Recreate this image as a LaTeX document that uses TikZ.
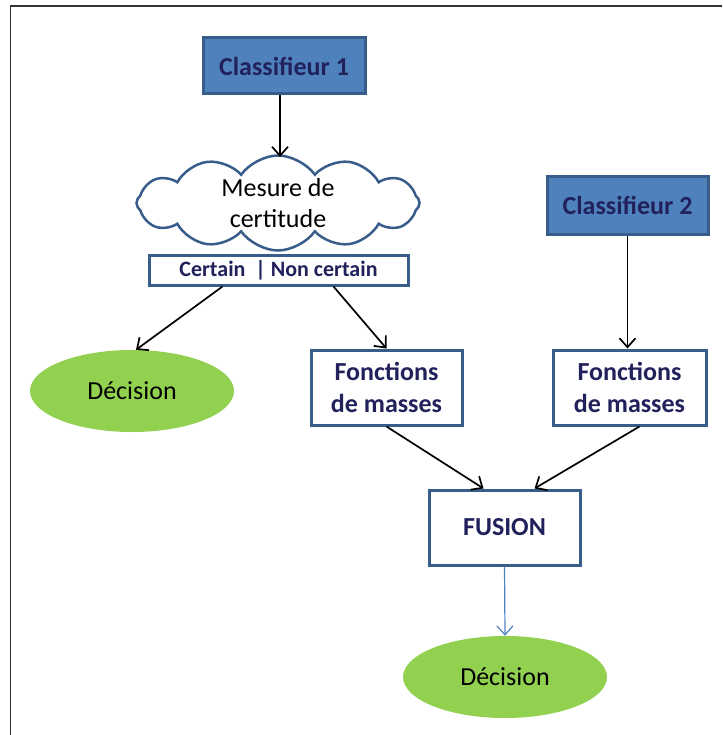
\documentclass[tikz,border=0pt]{standalone}
\usepackage{fontspec}
\setmainfont{Carlito}
\usetikzlibrary{shapes.symbols,shapes.geometric,arrows.meta}
\definecolor{boxblue}{RGB}{79,129,189}
\definecolor{edgeblue}{RGB}{56,93,138}
\definecolor{txtnavy}{RGB}{33,33,92}
\definecolor{decgreen}{RGB}{146,208,80}

\tikzset{
  classbox/.style={draw=edgeblue, fill=boxblue, line width=3pt, text=txtnavy,
    font=\fontsize{26}{30}\selectfont\bfseries, minimum width=162pt, minimum height=56pt},
  whitebox/.style={draw=edgeblue, fill=white, line width=3pt, text=txtnavy, align=center,
    font=\fontsize{26}{32}\selectfont\bfseries, minimum width=151pt, minimum height=75pt, inner sep=0pt},
  decision/.style={ellipse, fill=decgreen, minimum width=204pt, minimum height=82pt,
    font=\fontsize{26}{30}\selectfont},
  link/.style={-{Straight Barb[length=9pt,width=16pt]}, line width=1.7pt},
}

\begin{document}
\begin{tikzpicture}[x=1pt, y=-1pt]
  \useasboundingbox (0,0) rectangle (722,735);
  \draw[line width=1.5pt, black!80] (10.5,735) -- (10.5,6) -- (722,6);

  % classifieur 1 et mesure de certitude
  \node[classbox] (cl1) at (284,66) {Classifieur 1};
  \node[cloud, cloud puffs=12, cloud puff arc=110, cloud ignores aspect, draw=edgeblue, line width=2.5pt,
        minimum width=283pt, minimum height=95pt, inner sep=-22pt, align=center,
        font=\fontsize{26}{31}\selectfont] (cloud) at (278,203) {Mesure de\\certitude};
  \node[whitebox, minimum width=259pt, minimum height=30pt,
        font=\fontsize{22}{26}\selectfont\bfseries] (cert) at (278.5,270) {Certain~~|~Non certain};

  \node[decision] (dec1) at (132,391) {Décision};
  \node[whitebox] (fm1) at (386.5,387.5) {Fonctions\\de masses};

  % classifieur 2
  \node[classbox, minimum width=161pt, minimum height=57pt] (cl2) at (627.5,205.5) {Classifieur 2};
  \node[whitebox, minimum width=153pt] (fm2) at (629.5,387.5) {Fonctions\\de masses};

  % fusion
  \node[whitebox] (fusion) at (504.5,527.5) {FUSION};
  \node[decision] (dec2) at (505,677) {Décision};

  \draw[link] (cl1.south -| 280,0) -- (280,157);
  \draw[link] ([xshift=-56pt]cert.south) -- ([xshift=4pt]dec1.north);
  \draw[link] ([xshift=55pt]cert.south) -- (fm1.north);
  \draw[link] (cl2.south) -- (cl2.south |- fm2.north);
  \draw[link] (fm1.south) -- ([xshift=-21pt]fusion.north);
  \draw[link] ([xshift=10pt]fm2.south) -- ([xshift=30pt]fusion.north);
  \draw[link, boxblue, line width=1.2pt] (fusion.south) -- (dec2.north);
\end{tikzpicture}
\end{document}
